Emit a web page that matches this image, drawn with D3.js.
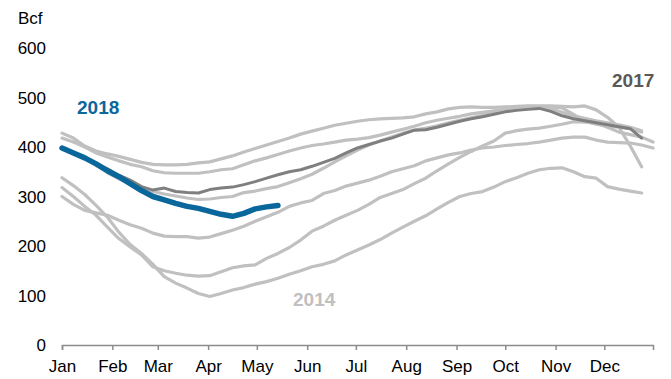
<!DOCTYPE html>
<html><head><meta charset="utf-8">
<script src="https://cdn.jsdelivr.net/npm/d3@7"></script>
<style>
html,body{margin:0;padding:0;background:#fff;}
svg{display:block;font-family:"Liberation Sans",Arial,sans-serif;}
</style></head>
<body>
<svg id="c" width="671" height="379"></svg>
<script>
// Weekly storage values (Bcf), week k = Jan 1 + 7k days
const yearA = [428,418,402,392,386,381,375,369,365,364,364,365,368,370,376,382,390,397,404,411,418,426,432,438,444,448,452,455,457,458,459,461,467,471,477,480,481,480,480,481,482,483,483,483,482,481,483,475,460,440,402,360];
const yearB = [418,410,400,388,380,372,365,360,352,348,347,347,347,350,354,356,364,372,378,385,392,398,403,406,410,414,416,419,424,430,436,442,449,454,458,462,467,470,473,476,478,479,480,481,479,466,452,446,442,440,437,430];
const yearC = [300,284,272,267,262,252,243,236,226,220,219,219,216,218,225,232,240,250,259,268,280,287,292,306,312,321,327,333,341,350,356,362,372,378,384,388,394,398,400,403,405,407,410,414,418,420,420,414,410,409,408,404,398];
const yearD = [318,300,280,262,238,215,198,182,158,150,145,141,139,140,148,156,160,162,175,185,197,212,230,240,252,262,272,284,298,306,314,326,337,352,366,379,391,402,412,428,433,436,438,442,446,451,450,448,440,430,425,420,410];
const year2014 = [338,322,304,282,258,228,203,185,163,138,125,115,104,98,104,111,116,123,128,135,143,150,158,163,170,182,192,202,213,226,238,250,261,275,288,300,306,310,319,330,338,347,354,357,358,350,340,337,320,315,311,307];
const yearE = [398,388,378,364,348,336,326,318,310,305,301,297,294,295,298,300,308,311,316,320,328,336,345,357,370,382,394,404,412,420,428,434,438,443,449,454,459,464,468,473,476,478,480,477,470,463,458,453,449,445,440,433];
const year2017 = [396,388,378,367,356,343,333,320,313,317,310,308,307,314,317,319,324,330,337,344,350,354,361,369,377,388,398,405,412,418,426,434,435,440,446,452,457,461,466,471,474,476,478,472,463,457,453,449,445,441,437,418];
const year2018 = [398,388,378,366,352,340,326,312,300,293,286,280,276,270,264,260,266,275,279,282];

const yTicks = [0,100,200,300,400,500,600];
const monthLabels = ["Jan","Feb","Mar","Apr","May","Jun","Jul","Aug","Sep","Oct","Nov","Dec"];

const svg = d3.select("#c");
const start = new Date(2018,0,1);
const x = d3.scaleTime().domain([start, new Date(2018,11,31)]).range([62,653]);
const y = d3.scaleLinear().domain([0,600]).range([345,48]);
const dayMs = 86400000;
const wk = k => new Date(start.getTime() + k*7*dayMs);

// y tick labels
svg.append("g").selectAll("text").data(yTicks).join("text")
  .attr("x",46).attr("y",d=>y(d)).attr("dy","0.36em")
  .attr("text-anchor","end").attr("font-size",17).attr("fill","#000")
  .text(d=>d);
svg.append("text").attr("x",18).attr("y",24).attr("font-size",17).attr("fill","#000").text("Bcf");

// x axis
const months = d3.timeMonth.range(start, new Date(2018,11,31));
const ax = svg.append("g").attr("transform","translate(0,345)");
ax.call(d3.axisBottom(x).tickValues(months).tickSize(5).tickFormat((d,i)=>monthLabels[i]).tickPadding(10));
ax.select(".domain").attr("stroke","#8c8c8c").attr("stroke-width",1.5);
ax.selectAll(".tick line").attr("stroke","#8c8c8c").attr("stroke-width",1.5);
ax.selectAll(".tick text").attr("font-size",17).attr("fill","#000").attr("font-family","Liberation Sans, Arial, sans-serif");

const line = d3.line().x((d,i)=>x(wk(i))).y(d=>y(d));
const greys = [yearA,yearB,yearC,yearD,year2014,yearE];
svg.append("g").selectAll("path").data(greys).join("path")
  .attr("d",line).attr("fill","none").attr("stroke","#c0c0c0").attr("stroke-width",3.2)
  .attr("stroke-linejoin","round").attr("stroke-linecap","round");
svg.append("path").attr("d",line(year2017)).attr("fill","none").attr("stroke","#7f7f7f")
  .attr("stroke-width",3).attr("stroke-linejoin","round").attr("stroke-linecap","round");
svg.append("path").attr("d",line(year2018)).attr("fill","none").attr("stroke","#0a679c")
  .attr("stroke-width",5.5).attr("stroke-linejoin","round").attr("stroke-linecap","round");

// labels
svg.append("text").attr("x",77).attr("y",114).attr("font-size",19).attr("font-weight","bold").attr("fill","#0a679c").text("2018");
svg.append("text").attr("x",612).attr("y",87).attr("font-size",19).attr("font-weight","bold").attr("fill","#595959").text("2017");
svg.append("text").attr("x",293).attr("y",306).attr("font-size",19).attr("font-weight","bold").attr("fill","#c0c0c0").text("2014");
</script>
</body></html>
